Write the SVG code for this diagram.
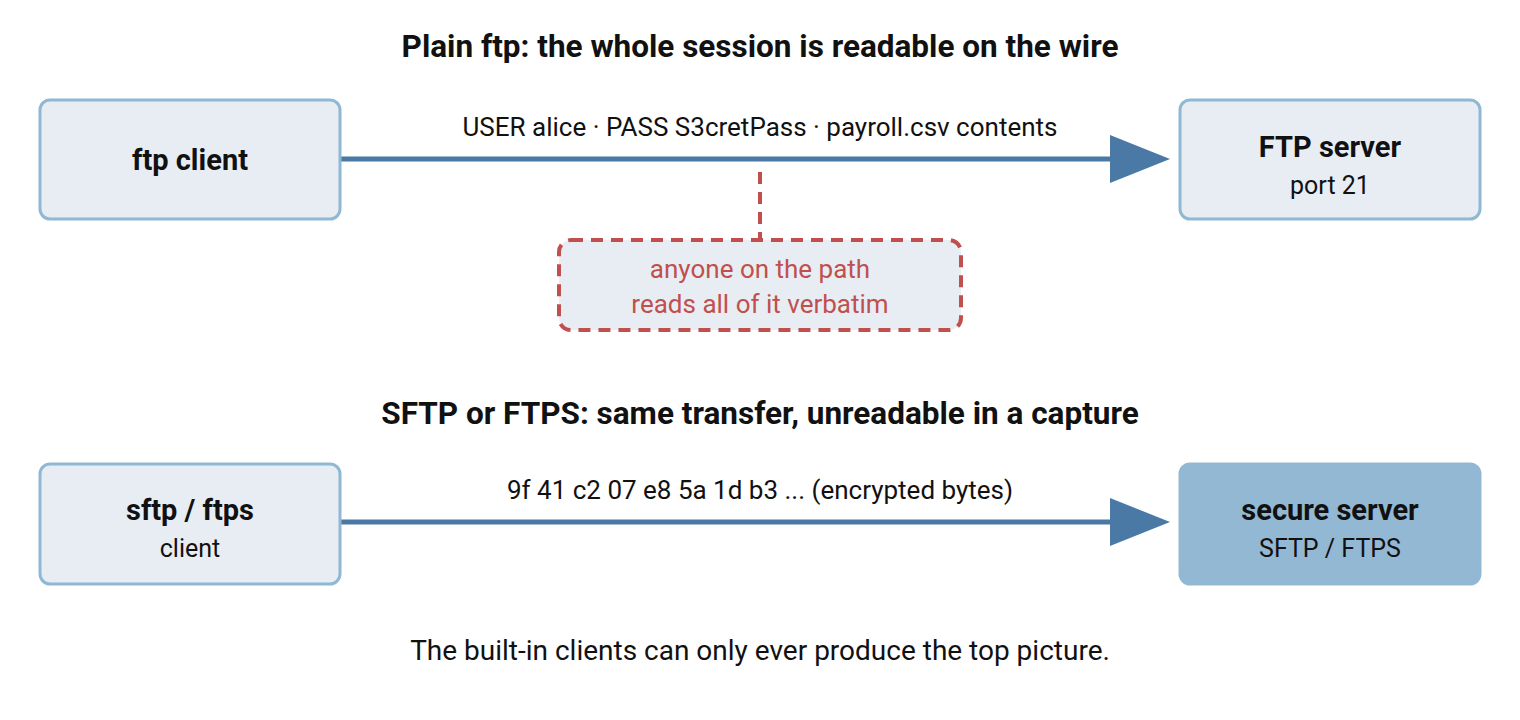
<svg xmlns="http://www.w3.org/2000/svg" width="1520" height="720" viewBox="0 0 1520 720">
<style>
text{font-family:Roboto,"Liberation Sans",sans-serif;text-anchor:middle;fill:#111}
.t{font-size:31.5px;font-weight:bold}
.b{font-size:29px;font-weight:bold}
.s{font-size:25px}
.m{font-size:26px}
.node{fill:#e8edf4;stroke:#8fb8d4;stroke-width:3}
.fill{fill:#93b8d4;stroke:#93b8d4;stroke-width:3}
.edge{stroke:#4a79a5;stroke-width:5;fill:none}
.r{fill:#c0504d}
</style>
<rect width="1520" height="720" fill="#fff"/>
<text class="t" x="760" y="57">Plain ftp: the whole session is readable on the wire</text>
<text class="t" x="760" y="424">SFTP or FTPS: same transfer, unreadable in a capture</text>
<g id="connectors">
<line class="edge" x1="340" y1="159" x2="1115" y2="159"/>
<polygon points="1110,135 1170,159 1110,183" fill="#4a79a5"/>
<line class="edge" x1="340" y1="522" x2="1115" y2="522"/>
<polygon points="1110,498 1170,522 1110,546" fill="#4a79a5"/>
<line x1="760" y1="172" x2="760" y2="240" stroke="#c0504d" stroke-width="4" stroke-dasharray="12,8"/>
<text class="m" x="760" y="136">USER alice · PASS S3cretPass · payroll.csv contents</text>
<text class="m" x="760" y="499">9f 41 c2 07 e8 5a 1d b3 ... (encrypted bytes)</text>
</g>
<g id="ftp-client"><rect class="node" x="40" y="100" width="300" height="119" rx="10"/><text class="b" x="190" y="170">ftp client</text></g>
<g id="ftp-server"><rect class="node" x="1180" y="100" width="300" height="119" rx="10"/><text class="b" x="1330" y="157">FTP server</text><text class="s" x="1330" y="194">port 21</text></g>
<g id="note"><rect x="559" y="240" width="402" height="90" rx="12" fill="#e8edf4" stroke="#c0504d" stroke-width="4" stroke-dasharray="12,8"/><text class="m r" x="760" y="278">anyone on the path</text><text class="m r" x="760" y="313">reads all of it verbatim</text></g>
<g id="sftp-client"><rect class="node" x="40" y="464" width="300" height="120" rx="10"/><text class="b" x="190" y="520">sftp / ftps</text><text class="s" x="190" y="557">client</text></g>
<g id="secure-server"><rect class="fill" x="1180" y="464" width="300" height="120" rx="10"/><text class="b" x="1330" y="520">secure server</text><text class="s" x="1330" y="557">SFTP / FTPS</text></g>
<text x="760" y="660" style="font-size:28px">The built-in clients can only ever produce the top picture.</text>
</svg>
